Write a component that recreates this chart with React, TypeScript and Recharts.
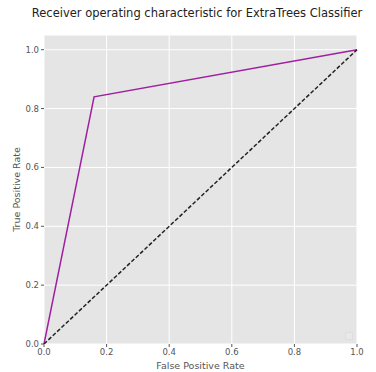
import { LineChart, Line, XAxis, YAxis, CartesianGrid, Label } from "recharts";

const fpr = [0, 0.16, 1];
const tpr = [0, 0.84, 1];
const chanceX = [0, 1];
const chanceY = [0, 1];
const tickValues = [0, 0.2, 0.4, 0.6, 0.8, 1];

const rocData = fpr.map((x, i) => ({ x, y: tpr[i] }));
const chanceData = chanceX.map((x, i) => ({ x, y: chanceY[i] }));

const font = "DejaVu Sans, sans-serif";

export default function App() {
  return (
    <div style={{ position: "absolute", left: 0, top: 0, width: 376, height: 372, background: "#fff", fontFamily: font }}>
      <div
        style={{
          position: "absolute",
          top: 6,
          left: 0,
          width: 394,
          textAlign: "center",
          fontSize: 11.5,
          color: "#222",
        }}
      >
        Receiver operating characteristic for ExtraTrees Classifier
      </div>
      <LineChart width={376} height={372} margin={{ top: 35, right: 19, left: 0, bottom: 0 }}>
        <CartesianGrid fill="#E5E5E5" stroke="#FFFFFF" strokeWidth={1} />
        <XAxis
          type="number"
          dataKey="x"
          domain={[0, 1]}
          ticks={tickValues}
          tickFormatter={(v: number) => v.toFixed(1)}
          axisLine={false}
          tickLine={{ stroke: "#555" }}
          tickSize={3}
          tick={{ fill: "#555", fontSize: 8.5, fontFamily: font }}
          height={28}
        >
          <Label value="False Positive Rate" position="insideBottom" offset={3} fill="#555" fontSize={9.5} fontFamily={font} />
        </XAxis>
        <YAxis
          type="number"
          dataKey="y"
          domain={[0, 1.05]}
          allowDataOverflow
          ticks={tickValues}
          tickFormatter={(v: number) => v.toFixed(1)}
          axisLine={false}
          tickLine={{ stroke: "#555" }}
          tickSize={3}
          tick={{ fill: "#555", fontSize: 8.5, fontFamily: font }}
          width={44}
        >
          <Label value="True Positive Rate" angle={-90} position="insideLeft" offset={17} fill="#555" fontSize={9.5} fontFamily={font} style={{ textAnchor: "middle" }} />
        </YAxis>
        <Line
          data={rocData}
          dataKey="y"
          type="linear"
          stroke="#A01FA0"
          strokeWidth={1.5}
          dot={false}
          isAnimationActive={false}
        />
        <Line
          data={chanceData}
          dataKey="y"
          type="linear"
          stroke="#222"
          strokeWidth={1.5}
          strokeDasharray="4 2"
          dot={false}
          isAnimationActive={false}
        />
      </LineChart>
      <div
        style={{
          position: "absolute",
          left: 345,
          top: 332,
          width: 6,
          height: 6,
          border: "1px solid #ddd",
          background: "#e8e8e8",
        }}
      />
    </div>
  );
}
